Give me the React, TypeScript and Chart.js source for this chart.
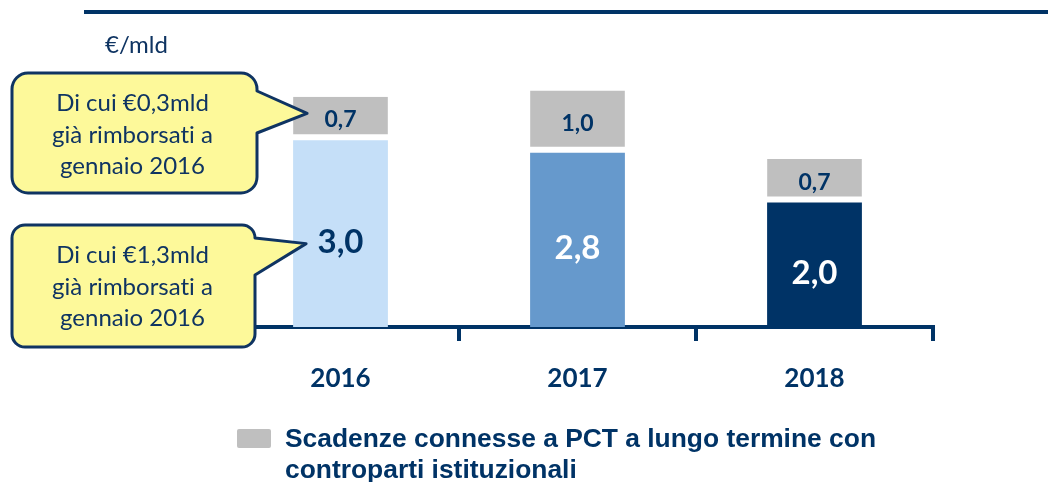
import React, { useEffect, useRef } from "react";
import { Chart, registerables } from "chart.js";

Chart.register(...registerables);

// ---- data ----
const categories = ["2016", "2017", "2018"];
const mainValues = [3.0, 2.8, 2.0];
const pctValues = [0.7, 1.0, 0.7];
const mainColors = ["#C5DFF8", "#6699CC", "#003366"];
const mainLabelColors = ["#003366", "#FFFFFF", "#FFFFFF"];
const pctColor = "#BFBFBF";
const unitLabel = "€/mld";
const legendLines = ["Scadenze connesse a PCT a lungo termine con", "controparti istituzionali"];
const callout1Lines = ["Di cui €0,3mld", "già rimborsati a", "gennaio 2016"];
const callout2Lines = ["Di cui €1,3mld", "già rimborsati a", "gennaio 2016"];

const NAVY = "#003366";
const TEXT = "#0F3462";
const CALLOUT_FILL = "#FDF99A";

const fmt = (v: number) => v.toFixed(1).replace(".", ",");

function noLig(ctx: any) {
  try {
    ctx.textRendering = "optimizeSpeed";
  } catch (e) {}
}

function drawCallout(
  ctx: CanvasRenderingContext2D,
  x: number, y: number, w: number, h: number, r: number,
  p1y: number, tipX: number, tipY: number, p2y: number,
  lines: string[], baselines: number[], cx: number
) {
  ctx.save();
  ctx.beginPath();
  ctx.moveTo(x + r, y);
  ctx.lineTo(x + w - r, y);
  ctx.arcTo(x + w, y, x + w, y + r, r);
  ctx.lineTo(x + w, p1y);
  ctx.lineTo(tipX, tipY);
  ctx.lineTo(x + w, p2y);
  ctx.lineTo(x + w, y + h - r);
  ctx.arcTo(x + w, y + h, x + w - r, y + h, r);
  ctx.lineTo(x + r, y + h);
  ctx.arcTo(x, y + h, x, y + h - r, r);
  ctx.lineTo(x, y + r);
  ctx.arcTo(x, y, x + r, y, r);
  ctx.closePath();
  ctx.fillStyle = CALLOUT_FILL;
  ctx.fill();
  ctx.lineWidth = 3;
  ctx.lineJoin = "round";
  ctx.strokeStyle = TEXT;
  ctx.stroke();
  ctx.fillStyle = TEXT;
  noLig(ctx);
  ctx.font = "24px Lato";
  ctx.textAlign = "center";
  ctx.textBaseline = "alphabetic";
  lines.forEach((l, i) => ctx.fillText(l, cx, baselines[i]));
  ctx.restore();
}

const overlayPlugin = {
  id: "overlay",
  afterDatasetsDraw(chart: any) {
    const ctx: CanvasRenderingContext2D = chart.ctx;
    const m0 = chart.getDatasetMeta(0);
    const m1 = chart.getDatasetMeta(1);
    ctx.save();
    ctx.textAlign = "center";
    ctx.textBaseline = "alphabetic";
    ctx.font = "bold 33px Lato";
    m0.data.forEach((bar: any, i: number) => {
      const { x, y, base } = bar.getProps(["x", "y", "base"], true);
      ctx.fillStyle = mainLabelColors[i];
      ctx.fillText(fmt(mainValues[i]), x, (y + base) / 2 + 19);
    });
    ctx.font = "bold 23px Lato";
    ctx.fillStyle = NAVY;
    m1.data.forEach((bar: any, i: number) => {
      const { x, y, base } = bar.getProps(["x", "y", "base"], true);
      ctx.fillText(fmt(pctValues[i]), x, (y + base - 6) / 2 + 12);
    });
    ctx.restore();
  },
  afterDraw(chart: any) {
    const ctx: CanvasRenderingContext2D = chart.ctx;
    const m0 = chart.getDatasetMeta(0);
    const m1 = chart.getDatasetMeta(1);
    ctx.save();
    // top rule
    ctx.fillStyle = NAVY;
    ctx.fillRect(84, 10, 964, 4);
    // unit label
    ctx.fillStyle = TEXT;
    ctx.font = "24px Lato";
    ctx.textAlign = "left";
    ctx.textBaseline = "alphabetic";
    ctx.fillText(unitLabel, 105, 53);
    ctx.restore();

    const g0 = m1.data[0].getProps(["x", "y", "base", "width"], true);
    const b0 = m0.data[0].getProps(["x", "y", "base", "width"], true);
    const left0 = g0.x - g0.width / 2;
    drawCallout(ctx, 12, 73, 245, 120, 16, 91, left0 + 14, (g0.y + g0.base - 6) / 2 - 2, 133,
      callout1Lines, [111, 142.5, 174], 132.5);
    drawCallout(ctx, 12, 225, 243, 122, 13, 238, left0 + 13, (b0.y + b0.base) / 2 + 10, 275,
      callout2Lines, [263, 294.5, 326], 132.5);

    // legend
    ctx.save();
    ctx.fillStyle = pctColor;
    ctx.beginPath();
    ctx.roundRect(237, 429, 34, 19, 2);
    ctx.fill();
    ctx.fillStyle = NAVY;
    ctx.font = "bold 25px 'Liberation Sans'";
    ctx.textAlign = "left";
    ctx.textBaseline = "alphabetic";
    const w1 = ctx.measureText(legendLines[0]).width;
    const sx = 591 / w1;
    ctx.translate(285, 0);
    ctx.scale(sx, 1);
    ctx.fillText(legendLines[0], 0, 447);
    ctx.fillText(legendLines[1], 0, 478);
    ctx.restore();
  },
};

export default function App() {
  const ref = useRef<HTMLCanvasElement>(null);
  useEffect(() => {
    if (!ref.current) return;
    const chart = new Chart(ref.current, {
      type: "bar",
      data: {
        labels: categories,
        datasets: [
          {
            label: "main",
            data: mainValues,
            backgroundColor: mainColors,
            borderWidth: 0,
            barPercentage: 0.4,
            categoryPercentage: 1,
            stack: "s",
          },
          {
            label: "Scadenze connesse a PCT a lungo termine con controparti istituzionali",
            data: pctValues,
            backgroundColor: pctColor,
            borderColor: "#FFFFFF",
            borderWidth: { top: 0, left: 0, right: 0, bottom: 6 },
            borderSkipped: false,
            barPercentage: 0.4,
            categoryPercentage: 1,
            stack: "s",
          },
        ],
      },
      options: {
        responsive: false,
        animation: false,
        layout: { padding: { left: 222, right: 115, top: 78, bottom: 0 } },
        plugins: { legend: { display: false }, tooltip: { enabled: false } },
        scales: {
          x: {
            stacked: true,
            offset: true,
            grid: {
              display: true,
              drawOnChartArea: false,
              drawTicks: true,
              tickLength: 14,
              color: NAVY,
              lineWidth: 4,
              offset: true,
            },
            border: { display: true, color: NAVY, width: 4 },
            ticks: {
              color: NAVY,
              font: { family: "Lato", size: 26, weight: "bold" },
              padding: 22,
            },
            afterFit: (s: any) => {
              s.height = 155;
            },
          },
          y: { stacked: true, display: false, min: 0, max: 4 },
        },
      },
      plugins: [overlayPlugin],
    });
    return () => chart.destroy();
  }, []);
  return (
    <div style={{ position: "absolute", left: 0, top: 0, width: 1048, height: 482, background: "#fff" }}>
      <canvas ref={ref} width={1048} height={482} />
    </div>
  );
}
